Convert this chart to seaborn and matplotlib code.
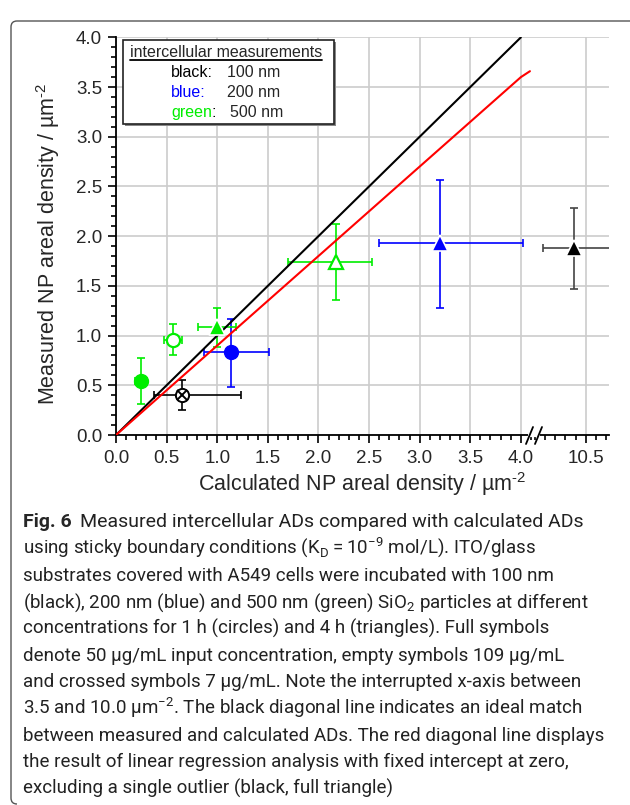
import numpy as np
import pandas as pd
import seaborn as sns
import matplotlib.pyplot as plt
from matplotlib.ticker import MultipleLocator, FixedLocator
from matplotlib.patches import Rectangle, PathPatch
from matplotlib.lines import Line2D
from matplotlib.path import Path

# values
# one row per measured point: particle size, symbol type, centre and error-bar ends
size_nm = ["100 nm", "100 nm", "200 nm", "200 nm", "500 nm", "500 nm", "500 nm", "500 nm"]
symbol = ["crossed", "full_tri", "full_circ", "full_tri", "full_circ", "empty_circ", "full_tri", "empty_tri"]
calc_ad = [0.65, 10.38, 1.14, 3.20, 0.25, 0.56, 1.00, 2.17]
meas_ad = [0.40, 1.88, 0.83, 1.93, 0.54, 0.96, 1.09, 1.74]
calc_lo = [0.38, 10.08, 0.87, 2.60, 0.19, 0.47, 0.81, 1.70]
calc_hi = [1.24, 10.95, 1.51, 4.02, 0.31, 0.65, 1.19, 2.53]
meas_lo = [0.25, 1.47, 0.48, 1.28, 0.31, 0.80, 0.89, 1.36]
meas_hi = [0.55, 2.28, 1.17, 2.57, 0.77, 1.12, 1.28, 2.12]

# diagonal lines
ideal_x = [0.0, 4.0]
ideal_y = [0.0, 4.0]
fit_x = [0.0, 4.0, 4.09]
fit_y = [0.0, 3.60, 3.66]

legend_rows = [("black:", "black", "100 nm"), ("blue:", "#0000ff", "200 nm"), ("green", "#00ee00", "500 nm")]

caption = [
    "using sticky boundary conditions (K$_\\mathregular{D}$\u2009=\u200910$^{\\mathregular{\u22129}}$ mol/L). ITO/glass",
    "substrates covered with A549 cells were incubated with 100 nm",
    "(black), 200 nm (blue) and 500 nm (green) SiO$_\\mathregular{2}$ particles at different",
    "concentrations for 1 h (circles) and 4 h (triangles). Full symbols",
    "denote 50 \u00b5g/mL input concentration, empty symbols 109 \u00b5g/mL",
    "and crossed symbols 7 \u00b5g/mL. Note the interrupted x-axis between",
    "3.5 and 10.0 \u00b5m$^{\\mathregular{\u22122}}$. The black diagonal line indicates an ideal match",
    "between measured and calculated ADs. The red diagonal line displays",
    "the result of linear regression analysis with fixed intercept at zero,",
    "excluding a single outlier (black, full triangle)",
]

df = pd.DataFrame({"size": size_nm, "symbol": symbol, "x": calc_ad, "y": meas_ad,
                   "xlo": calc_lo, "xhi": calc_hi, "ylo": meas_lo, "yhi": meas_hi})

colors = {"100 nm": "black", "200 nm": "#0000ff", "500 nm": "#00ee00"}

sns.set_style("ticks")
plt.rcParams["font.family"] = ["Liberation Sans", "DejaVu Sans"]
plt.rcParams["mathtext.fontset"] = "custom"
plt.rcParams["mathtext.rm"] = "Liberation Sans"

W, H = 630, 805
fig = plt.figure(figsize=(W / 100, H / 100), dpi=100)

def fx(px):
    return px / W

def fy(py):
    return 1 - py / H

ax1 = fig.add_axes([fx(116), fy(435), 419 / W, 397.6 / H])
ax2 = fig.add_axes([fx(535), fy(435), 74 / W, 397.6 / H], sharey=ax1)

ax1.set_xlim(0, 4.14)
ax2.set_xlim(10.0, 10.73)
ax1.set_ylim(0, 4.0)

for ax in (ax1, ax2):
    ax.set_axisbelow(True)
    ax.grid(True, which="major", color="#cccccc", lw=1.2)
    ax.spines["top"].set_visible(False)
    ax.spines["right"].set_visible(False)
    for sp in ax.spines.values():
        sp.set_linewidth(1.3)
        sp.set_color("black")
    ax.xaxis.set_minor_locator(MultipleLocator(0.1))
    ax.yaxis.set_major_locator(MultipleLocator(0.5))
    ax.yaxis.set_minor_locator(MultipleLocator(0.1))
    ax.tick_params(which="major", direction="out", length=6, width=1.2, labelsize=13.5, pad=5, color="black")
    ax.tick_params(which="minor", direction="out", length=3.5, width=1.2, color="black")

ax1.tick_params(axis="y", which="major", pad=4)
ax1.xaxis.set_major_locator(MultipleLocator(0.5))
ax2.xaxis.set_major_locator(FixedLocator([10.5]))
ax2.spines["left"].set_visible(False)
ax2.tick_params(axis="y", which="both", left=False, labelleft=False)

# hide the grid lines that sit on the frame edges
for ax in (ax1, ax2):
    glines = ax.get_ygridlines()
    glines[0].set_visible(False)
    glines[-1].set_visible(False)

sns.lineplot(x=ideal_x, y=ideal_y, color="black", lw=1.5, ax=ax1, zorder=3)
sns.lineplot(x=fit_x, y=fit_y, color="#ff0000", lw=1.5, ax=ax1, zorder=3)

for _, r in df.iterrows():
    ax = ax2 if r["x"] > 5 else ax1
    c = colors[r["size"]]
    ecol = "#444444" if (r["size"] == "100 nm" and r["symbol"] == "full_tri") else c
    ax.errorbar(r["x"], r["y"],
                xerr=[[r["x"] - r["xlo"]], [r["xhi"] - r["x"]]],
                yerr=[[r["y"] - r["ylo"]], [r["yhi"] - r["y"]]],
                fmt="none", ecolor=ecol, elinewidth=1.2, capsize=3, capthick=1.2,
                zorder=2, clip_on=True)
    s = r["symbol"]
    if s == "full_circ":
        ax.plot(r["x"], r["y"], "o", ms=10, mfc=c, mec=c, zorder=4)
    elif s == "empty_circ":
        ax.plot(r["x"], r["y"], "o", ms=9.5, mfc="white", mec=c, mew=1.6, zorder=4)
    elif s == "full_tri":
        ax.plot(r["x"], r["y"], "^", ms=11.5, mfc=c, mec="white", mew=1.2, zorder=4)
    elif s == "empty_tri":
        ax.plot(r["x"], r["y"], "^", ms=10, mfc="white", mec=c, mew=1.6, zorder=4)
    elif s == "crossed":
        ax.plot(r["x"], r["y"], "o", ms=9.5, mfc="white", mec=c, mew=1.4, zorder=4)
        ax.plot(r["x"], r["y"], "x", ms=6.5, mec=c, mew=1.4, zorder=5)

# axis break marks
tf = fig.transFigure
fig.add_artist(Line2D([fx(530), fx(538)], [fy(435), fy(435)], color="white", lw=3, transform=tf, zorder=5))
for x0 in (526, 535):
    fig.add_artist(Line2D([fx(x0), fx(x0 + 7)], [fy(444), fy(427)], color="black", lw=1.3, transform=tf, zorder=6))

# axis labels (hyphen, not minus, in the exponent)
fig.text(fx(362.5), fy(484), "Calculated NP areal density / \u00b5m$^{\\text{-2}}$",
         ha="center", va="center", fontsize=15.5)
fig.text(fx(48), fy(244), "Measured NP areal density / \u00b5m$^{\\text{-2}}$",
         ha="center", va="center", fontsize=15.5, rotation=90)

# legend box
fig.add_artist(Rectangle((fx(125), fy(126)), 211 / W, 84 / H, transform=tf,
                         facecolor="#888888", edgecolor="none", zorder=6))
fig.add_artist(Rectangle((fx(123), fy(124)), 211 / W, 84 / H, transform=tf,
                         facecolor="white", edgecolor="#222222", lw=1.2, zorder=7))
title = fig.text(fx(130), fy(57), "intercellular measurements", ha="left", va="baseline",
                 fontsize=11.5, zorder=8)
fig.canvas.draw()
bb = title.get_window_extent().transformed(tf.inverted())
fig.add_artist(Line2D([bb.x0, bb.x1], [fy(60.5), fy(60.5)], color="black", lw=1.3, transform=tf, zorder=8))
for i, (name, col, val) in enumerate(legend_rows):
    yb = 77 + 20 * i
    t = fig.text(fx(171), fy(yb), name, color=col, ha="left", va="baseline", fontsize=11.5, zorder=8)
    if name == "green":
        fig.canvas.draw()
        gbb = t.get_window_extent().transformed(tf.inverted())
        fig.text(gbb.x1, fy(yb), ":", color="black", ha="left", va="baseline", fontsize=11.5, zorder=8)
    fig.text(fx(227 + (3 if i == 2 else 0)), fy(yb), val, ha="left", va="baseline", fontsize=11.5, zorder=8)

# outer frame (top and left edge with rounded corners)
verts = [(fx(630), fy(21)), (fx(17), fy(21)), (fx(11), fy(21)), (fx(11), fy(27)),
         (fx(11), fy(798)), (fx(11), fy(804)), (fx(17), fy(804))]
codes = [Path.MOVETO, Path.LINETO, Path.CURVE3, Path.CURVE3, Path.LINETO, Path.CURVE3, Path.CURVE3]
fig.add_artist(PathPatch(Path(verts, codes), transform=tf, fill=False, edgecolor="#555555", lw=1.0))

# caption
cap_font = ["Roboto", "DejaVu Sans"]
cap_size = 13.5
base = 527.3
step = 26.65
figt = fig.text(fx(23), fy(base), "Fig. 6", fontsize=cap_size + 0.5, fontweight="bold",
                family=cap_font, ha="left", va="baseline")
fig.canvas.draw()
fbb = figt.get_window_extent().transformed(tf.inverted())
fig.text(fbb.x1 + fx(8), fy(base), "Measured intercellular ADs compared with calculated ADs",
         fontsize=cap_size + 0.5, family=cap_font, ha="left", va="baseline", color="#222222")
for i, line in enumerate(caption):
    fig.text(fx(23), fy(base + step * (i + 1)), line, fontsize=cap_size, family=cap_font,
             ha="left", va="baseline", color="#222222")

fig.savefig("out.png", dpi=100)
